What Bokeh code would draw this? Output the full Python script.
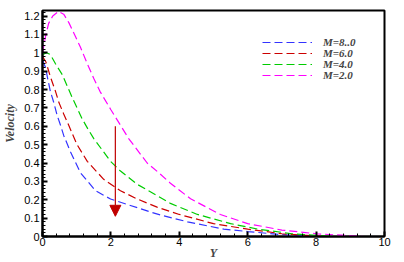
from bokeh.plotting import figure
from bokeh.models import Range1d, FixedTicker, Arrow, NormalHead, Legend, LegendItem
from bokeh.embed import file_html
from bokeh.resources import INLINE

# ---- data ----
x_m8 = [0, 0.09, 0.14, 0.23, 0.33, 0.43, 0.53, 0.62, 0.82, 1.11, 1.55, 1.99, 2.57, 3.16, 3.45, 4.24, 5.3, 6.0, 7.0, 8.0]
y_m8 = [0.96, 0.92, 0.87, 0.79, 0.729, 0.658, 0.604, 0.55, 0.46, 0.347, 0.249, 0.204, 0.169, 0.133, 0.117, 0.08, 0.04, 0.027, 0.01, 0.0]

x_m6 = [0, 0.1, 0.23, 0.38, 0.48, 0.62, 0.77, 0.87, 1.01, 1.31, 1.79, 2.28, 2.77, 3.35, 4.0, 5.0, 6.0, 7.0, 8.2]
y_m6 = [0.98, 0.95, 0.87, 0.79, 0.729, 0.667, 0.604, 0.56, 0.50, 0.409, 0.311, 0.249, 0.204, 0.16, 0.12, 0.07, 0.04, 0.015, 0.0]

x_m4 = [0, 0.12, 0.23, 0.38, 0.58, 0.72, 0.87, 1.01, 1.16, 1.35, 1.5, 1.99, 2.28, 2.77, 3.35, 3.74, 4.53, 5.5, 6.3, 7.3, 8.5]
y_m4 = [0.99, 1.0, 0.99, 0.94, 0.88, 0.82, 0.756, 0.70, 0.64, 0.578, 0.533, 0.409, 0.356, 0.284, 0.222, 0.18, 0.12, 0.07, 0.04, 0.015, 0.0]

x_m2 = [0, 0.05, 0.1, 0.18, 0.3, 0.47, 0.62, 0.77, 0.96, 1.11, 1.31, 1.5, 1.68, 2.0, 2.52, 3.06, 3.4, 3.74, 4.33, 5.2, 6.0, 7.0, 8.0, 9.4]
y_m2 = [1.0, 1.05, 1.1, 1.16, 1.2, 1.225, 1.21, 1.164, 1.09, 1.03, 0.94, 0.86, 0.79, 0.69, 0.533, 0.40, 0.347, 0.29, 0.205, 0.12, 0.07, 0.035, 0.015, 0.0]

labels = ["M=8..0", "M=6.0", "M=4.0", "M=2.0"]
colors = ["#3333ff", "#cc0000", "#00cc00", "#ff00ff"]

x_ticks = [0, 2, 4, 6, 8, 10]
y_ticks = [0, 0.1, 0.2, 0.3, 0.4, 0.5, 0.6, 0.7, 0.8, 0.9, 1.0, 1.1, 1.2]
y_tick_labels = ["0", "0.1", "0.2", "0.3", "0.4", "0.5", "0.6", "0.7", "0.8", "0.9", "1", "1.1", "1.2"]

arrow_x = 2.13
arrow_y0 = 0.60
arrow_y1 = 0.11

# ---- figure ----
p = figure(width=404, height=262, output_backend="svg", toolbar_location=None,
           x_range=Range1d(0, 10), y_range=Range1d(0, 1.23),
           min_border_top=10, min_border_right=20, min_border_left=42, min_border_bottom=22)
p.background_fill_color = "white"
p.border_fill_color = "white"
p.outline_line_color = "black"
p.outline_line_width = 2
p.grid.visible = False

series = [(x_m8, y_m8), (x_m6, y_m6), (x_m4, y_m4), (x_m2, y_m2)]
legend_rows_y = [188, 177, 166, 155]  # screen offsets of each legend row from the frame bottom
for (xs, ys), lab, c, ly in zip(series, labels, colors, legend_rows_y):
    r = p.line(xs, ys, line_color=c, line_width=1.2, line_dash="8 4")
    lg = Legend(items=[LegendItem(label=lab, renderers=[r])], location=(220, ly))
    lg.background_fill_alpha = 0
    lg.border_line_alpha = 0
    lg.label_text_font = "Liberation Serif"
    lg.label_text_font_style = "bold italic"
    lg.label_text_font_size = "11px"
    lg.glyph_width = 50
    lg.glyph_height = 10
    lg.label_height = 10
    lg.spacing = 0
    lg.margin = 0
    lg.padding = 0
    lg.label_standoff = 11
    p.add_layout(lg)

p.add_layout(Arrow(end=NormalHead(size=11, fill_color="#c00000", line_color="#c00000"),
                   x_start=arrow_x, y_start=arrow_y0, x_end=arrow_x, y_end=arrow_y1,
                   line_color="#c00000", line_width=1.2))

for ax in [p.xaxis[0], p.yaxis[0]]:
    ax.axis_line_width = 2
    ax.major_tick_in = 5
    ax.major_tick_out = 0
    ax.minor_tick_in = 3
    ax.minor_tick_out = 0
    ax.major_tick_line_width = 2
    ax.major_label_text_font = "Liberation Sans"
    ax.major_label_text_font_size = "11px"
    ax.major_label_text_color = "black"
    ax.axis_label_text_font = "Liberation Serif"
    ax.axis_label_text_font_style = "bold italic"
    ax.axis_label_text_font_size = "12px"

p.xaxis.ticker = FixedTicker(ticks=x_ticks, minor_ticks=[i * 0.4 for i in range(26)])
p.yaxis.ticker = FixedTicker(ticks=y_ticks, minor_ticks=[i * 0.02 for i in range(62)])
p.yaxis.major_label_overrides = {t: l for t, l in zip(y_ticks, y_tick_labels)}
p.xaxis.major_label_standoff = 1
p.yaxis.major_label_standoff = 3
p.xaxis.axis_label = "Y"
p.yaxis.axis_label = "Velocity"
p.xaxis.axis_label_standoff = -3
p.yaxis.axis_label_standoff = 4

open("out.html", "w").write(file_html(p, INLINE))
